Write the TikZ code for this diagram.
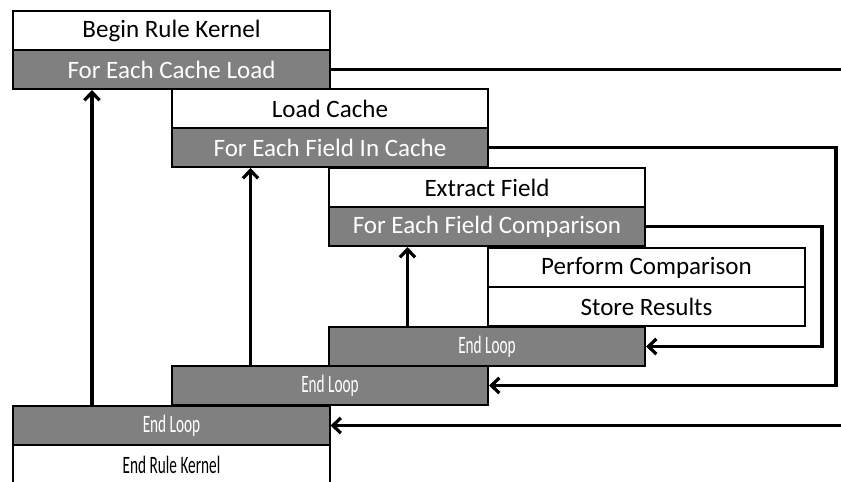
\documentclass[tikz,border=0pt]{standalone}
\usepackage{fontspec}
\setmainfont{Carlito}
\usetikzlibrary{arrows.meta,calc}

\newcommand{\squeezed}[1]{\scalebox{0.61}[1]{#1}}

\begin{document}
\begin{tikzpicture}[x=0.025cm,y=-0.025cm,
    >={Straight Barb[length=2mm,width=3.8mm]}]
            \tikzset{stepbox/.style={rectangle,draw=black,line width=1.4pt,fill=white,
                minimum width=7.9cm,minimum height=0.975cm,inner sep=0pt,
                font=\fontsize{17.8}{20}\selectfont},
                loopbox/.style={stepbox,fill=black!50,text=white},
                flow/.style={line width=2.3pt}};
            \useasboundingbox (0,0) rectangle (841,481);
            \node[stepbox] (begin) at (171.5, 30.5) {Begin Rule Kernel};
            \node[loopbox] (cacheload) at (171.5, 69.5) {For Each Cache Load};
            \node[stepbox] (loadcache) at (330, 108.5) {Load Cache};
            \node[loopbox] (fieldcache) at (330, 147.5) {For Each Field In Cache};
            \node[stepbox] (extract) at (487, 187.5) {Extract Field};
            \node[loopbox] (fieldcmp) at (487, 226.5) {For Each Field Comparison};
            \node[stepbox] (perform) at (646.5, 267.5) {Perform Comparison};
            \node[stepbox] (store) at (646.5, 306.5) {Store Results};
            \node[loopbox] (endC) at (487, 346.5) {\squeezed{End Loop}};
            \node[loopbox] (endB) at (330, 385.5) {\squeezed{End Loop}};
            \node[stepbox] (endkernel) at (171.5, 464.5) {\squeezed{End Rule Kernel}};
            \node[loopbox] (endA) at (171.5, 425.5) {\squeezed{End Loop}};
            \coordinate (edgeTop) at (841, 69.5);
            \coordinate (edgeBot) at (841, 425.5);
            % back edges up to each loop head
            \draw[->,flow] ($(endA.north west)!.25!(endA.north east)$) -- ($(cacheload.south west)!.25!(cacheload.south east)$);
            \draw[->,flow] ($(endB.north west)!.25!(endB.north east)$) -- ($(fieldcache.south west)!.25!(fieldcache.south east)$);
            \draw[->,flow] ($(endC.north west)!.25!(endC.north east)$) -- ($(fieldcmp.south west)!.25!(fieldcmp.south east)$);
            % exits down to each loop end
            \draw[flow] (cacheload.east) -- (edgeTop);
            \draw[->,flow] (edgeBot) -- (endA.east);
            \draw[->,flow] (fieldcache.east) -- ++(347,0) |- (endB.east);
            \draw[->,flow] (fieldcmp.east) -- ++(176,0) |- (endC.east);
        \end{tikzpicture}
\end{document}
